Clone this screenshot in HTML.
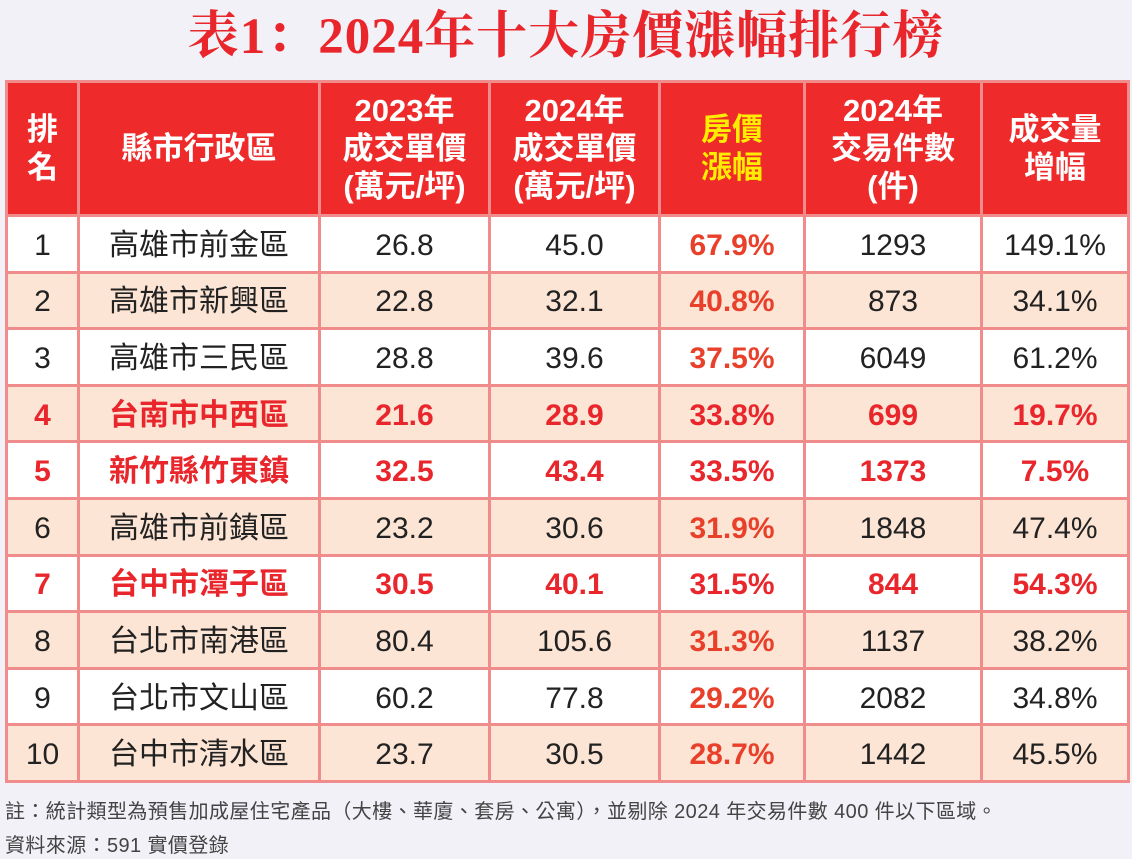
<!DOCTYPE html>
<html><head><meta charset="utf-8"><style>
body{margin:0;width:1132px;height:859px;background:#f1f1f7;position:relative;overflow:hidden;font-family:"Liberation Sans","Noto Sans CJK TC",sans-serif}
.title{position:absolute;left:0;top:2px;width:1132px;text-align:center;color:#e8262b;font-family:"Liberation Serif","Noto Serif CJK SC",serif;font-size:51px;font-weight:bold;line-height:70px;letter-spacing:1px}
table{position:absolute;left:5px;top:80px;width:1122px;border-collapse:collapse;table-layout:fixed;border:3px solid #f08c8c}
td,th{border:3px solid #f08c8c;text-align:center;padding:0;overflow:hidden;white-space:nowrap}
th{background:#ee2a2a;color:#fff;font-size:31px;line-height:38px;font-weight:bold;height:131px}
th.y{color:#ffec00}
td{height:49.6px;font-size:30px;color:#222;padding-top:4px;box-sizing:content-box;line-height:40px}
tr.a td{background:#fde5d5}
tr.w td{background:#fff}
td.p{color:#e8402a;font-weight:bold}
tr.r td{color:#e8262b;font-weight:bold}
.note{position:absolute;left:5px;font-size:20px;color:#444;letter-spacing:0.4px}
</style></head><body>
<div class="title">表1：2024年十大房價漲幅排行榜</div>
<table>
<colgroup><col style="width:72px"><col style="width:241px"><col style="width:170px"><col style="width:170px"><col style="width:145px"><col style="width:177px"><col style="width:147px"></colgroup>
<tr><th>排<br>名</th><th>縣市行政區</th><th>2023年<br>成交單價<br>(萬元/坪)</th><th>2024年<br>成交單價<br>(萬元/坪)</th><th class="y">房價<br>漲幅</th><th>2024年<br>交易件數<br>(件)</th><th>成交量<br>增幅</th></tr>
<tr class="w"><td>1</td><td>高雄市前金區</td><td>26.8</td><td>45.0</td><td class="p">67.9%</td><td>1293</td><td>149.1%</td></tr>
<tr class="a"><td>2</td><td>高雄市新興區</td><td>22.8</td><td>32.1</td><td class="p">40.8%</td><td>873</td><td>34.1%</td></tr>
<tr class="w"><td>3</td><td>高雄市三民區</td><td>28.8</td><td>39.6</td><td class="p">37.5%</td><td>6049</td><td>61.2%</td></tr>
<tr class="a r"><td>4</td><td>台南市中西區</td><td>21.6</td><td>28.9</td><td class="p">33.8%</td><td>699</td><td>19.7%</td></tr>
<tr class="w r"><td>5</td><td>新竹縣竹東鎮</td><td>32.5</td><td>43.4</td><td class="p">33.5%</td><td>1373</td><td>7.5%</td></tr>
<tr class="a"><td>6</td><td>高雄市前鎮區</td><td>23.2</td><td>30.6</td><td class="p">31.9%</td><td>1848</td><td>47.4%</td></tr>
<tr class="w r"><td>7</td><td>台中市潭子區</td><td>30.5</td><td>40.1</td><td class="p">31.5%</td><td>844</td><td>54.3%</td></tr>
<tr class="a"><td>8</td><td>台北市南港區</td><td>80.4</td><td>105.6</td><td class="p">31.3%</td><td>1137</td><td>38.2%</td></tr>
<tr class="w"><td>9</td><td>台北市文山區</td><td>60.2</td><td>77.8</td><td class="p">29.2%</td><td>2082</td><td>34.8%</td></tr>
<tr class="a"><td>10</td><td>台中市清水區</td><td>23.7</td><td>30.5</td><td class="p">28.7%</td><td>1442</td><td>45.5%</td></tr>
</table>
<div class="note" style="top:795px">註：統計類型為預售加成屋住宅產品（大樓、華廈、套房、公寓），並剔除 2024 年交易件數 400 件以下區域。</div>
<div class="note" style="top:829px">資料來源：591 實價登錄</div>
</body></html>
